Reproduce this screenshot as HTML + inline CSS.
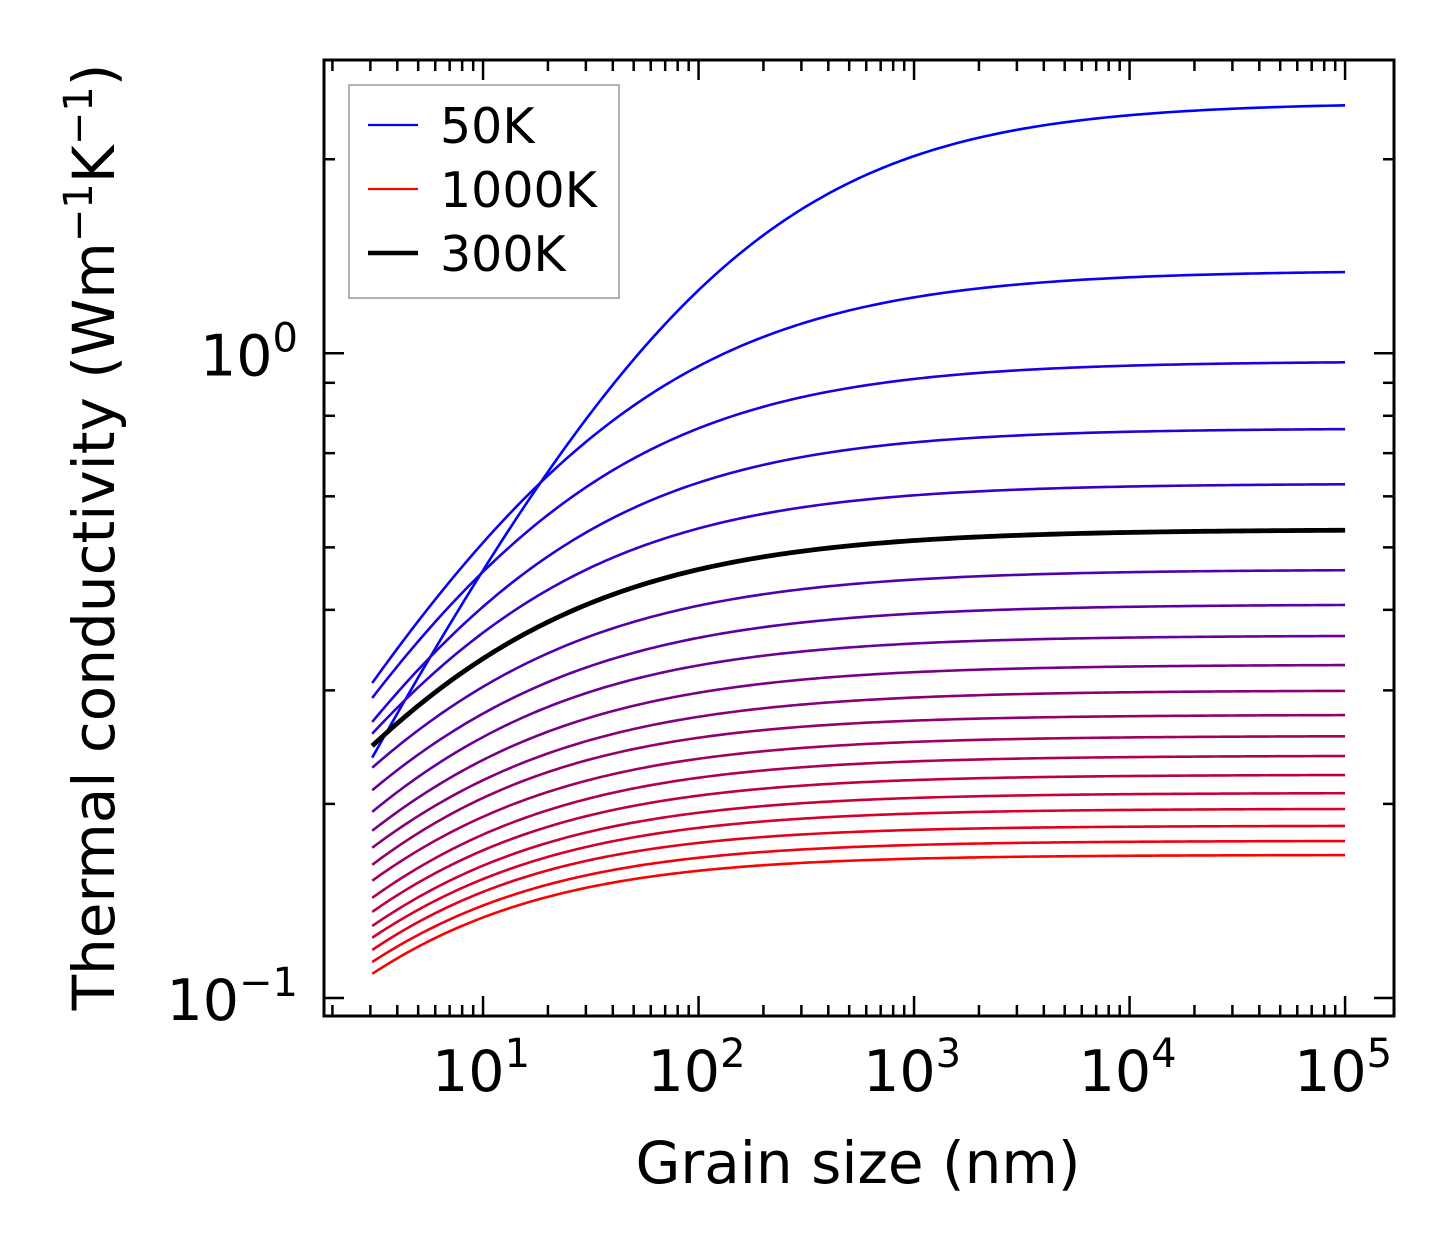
<!DOCTYPE html>
<html><head><meta charset="utf-8"><style>
html,body{margin:0;padding:0;background:#fff;}
svg{display:block;font-family:"DejaVu Sans","Liberation Sans",sans-serif;}
</style></head><body>
<svg id="chart" width="1454" height="1254" viewBox="0 0 1454 1254" xmlns="http://www.w3.org/2000/svg">
<rect x="0" y="0" width="1454" height="1254" fill="#fff"/>
<g id="curves"></g>
<g id="axes"></g>
<g id="legend">
<rect x="349" y="85" width="270" height="213" fill="#fff" stroke="#999" stroke-width="1.5"/>
<line x1="368" y1="125" x2="418" y2="125" stroke="#0000ff" stroke-width="2.2"/>
<text x="440" y="143" font-size="49">50K</text>
<line x1="368" y1="189" x2="418" y2="189" stroke="#ff0000" stroke-width="2.2"/>
<text x="440" y="207" font-size="49">1000K</text>
<line x1="368" y1="253" x2="418" y2="253" stroke="#000" stroke-width="4.5"/>
<text x="440" y="271" font-size="49">300K</text>
</g>
<text x="858" y="1183" font-size="58" text-anchor="middle">Grain size (nm)</text>
<text transform="translate(114,537) rotate(-90)" font-size="58" text-anchor="middle">Thermal conductivity (Wm<tspan dy="-22" font-size="40">−1</tspan><tspan dy="22">K</tspan><tspan dy="-22" font-size="40">−1</tspan><tspan dy="22">)</tspan></text>
</svg>
<script>
const temperatures=[50,100,150,200,250,300,350,400,450,500,550,600,650,700,750,800,850,900,950,1000];
const kStart=[0.236,0.308,0.292,0.268,0.257,0.246,0.2276,0.210,0.1944,0.1817,0.171,0.1609,0.152,0.143,0.136,0.1293,0.124,0.1187,0.1137,0.109];
const kMid100=[1.253,0.955,0.765,0.630,0.535,0.462,0.406,0.362,0.328,0.2975,0.273,0.2533,0.235,0.2196,0.206,0.1938,0.1836,0.174,0.165,0.1575];
const kEnd=[2.45,1.345,0.972,0.765,0.628,0.533,0.462,0.408,0.365,0.329,0.300,0.275,0.255,0.2376,0.222,0.208,0.1966,0.185,0.1753,0.1667];
const grainMin=3.06, grainMax=1e5;
const xTickLabels=["1","2","3","4","5"];
const yTickLabels=["0","−1"];

const NS="http://www.w3.org/2000/svg";
const L=324,R=1394,T=60,B=1016;
const xmin=0.262,xmax=5.227,ymin=-1.028,ymax=0.455;
function X(v){return L+(Math.log10(v)-xmin)/(xmax-xmin)*(R-L);}
function Y(v){return B-(Math.log10(v)-ymin)/(ymax-ymin)*(B-T);}
function el(tag,attrs,parent){const e=document.createElementNS(NS,tag);for(const k in attrs)e.setAttribute(k,attrs[k]);parent.appendChild(e);return e;}

const cg=document.getElementById('curves');
function curvePts(i){
  const ke=kEnd[i],r0=Math.max(ke/kStart[i]-1,1e-4),r1=Math.max(ke/kMid100[i]-1,1e-5);
  const p=Math.log(r0/r1)/Math.log(100/grainMin);
  const a=100*Math.pow(r1,1/p);
  const pts=[];
  for(let j=0;j<=200;j++){
    const lg=Math.log10(grainMin)+j/200*(Math.log10(grainMax)-Math.log10(grainMin));
    const Lg=Math.pow(10,lg);
    const k=ke/(1+Math.pow(a/Lg,p));
    pts.push(X(Lg).toFixed(2)+","+Y(k).toFixed(2));
  }
  return pts.join(" ");
}
const n=temperatures.length;
for(let i=0;i<n;i++){
  const t=i/(n-1);
  const col=`rgb(${Math.round(255*t)},0,${Math.round(255*(1-t))})`;
  const pl=el('polyline',{points:curvePts(i),fill:'none',stroke:col,'stroke-width':2.6},cg);
  
  
}
const bi=temperatures.indexOf(300);
const black=el('polyline',{points:curvePts(bi),fill:'none',stroke:'#000','stroke-width':4.8},cg);



const ag=document.getElementById('axes');
for(let d=0;d<=5;d++){for(let m=1;m<10;m++){
  const v=m*Math.pow(10,d);const x=X(v);if(x<L||x>R)continue;
  const len=m===1?20:11;
  el('line',{x1:x,y1:B,x2:x,y2:B-len,stroke:'#000','stroke-width':2.5},ag);
  el('line',{x1:x,y1:T,x2:x,y2:T+len,stroke:'#000','stroke-width':2.5},ag);
}}
for(let d=-2;d<=0;d++){for(let m=1;m<10;m++){
  const v=m*Math.pow(10,d);const y=Y(v);if(y<T||y>B)continue;
  const len=m===1?20:11;
  el('line',{x1:L,y1:y,x2:L+len,y2:y,stroke:'#000','stroke-width':2.5},ag);
  el('line',{x1:R,y1:y,x2:R-len,y2:y,stroke:'#000','stroke-width':2.5},ag);
}}
const frame=el('rect',{x:L,y:T,width:R-L,height:B-T,fill:'none',stroke:'#000','stroke-width':3},ag);


xTickLabels.forEach(e=>{
  const t=el('text',{x:X(Math.pow(10,+e))-2,y:1091,'font-size':57,'text-anchor':'middle'},ag);
  t.innerHTML='10<tspan dy="-24" font-size="40">'+e+'</tspan>';
  
  
});
yTickLabels.forEach(e=>{
  const ev=+e.replace('−','-');
  const t=el('text',{x:298,y:Y(Math.pow(10,ev))+22,'font-size':57,'text-anchor':'end'},ag);
  t.innerHTML='10<tspan dy="-24" font-size="40">'+e+'</tspan>';
  
  
});
</script>
</body></html>
